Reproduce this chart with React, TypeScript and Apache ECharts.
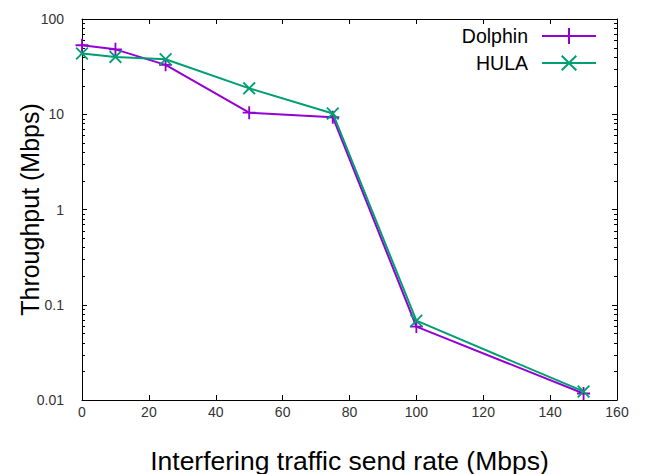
import React, { useEffect, useRef } from "react";
import * as echarts from "echarts";

const sendRates = [0, 10, 25, 50, 75, 100, 150];
const dolphinThroughput = [53, 48, 33, 10.4, 9.3, 0.059, 0.0117];
const hulaThroughput = [43.5, 40, 37.8, 18.7, 10.2, 0.068, 0.0123];
const seriesNames = ["Dolphin", "HULA"];
const xTitle = "Interfering traffic send rate (Mbps)";
const yTitle = "Throughput (Mbps)";
const xTicks = { min: 0, max: 160, interval: 20 };
const yRange = { min: 0.01, max: 100 };

const PURPLE = "#9400D3";
const GREEN = "#009E73";
const FONT = "'Liberation Sans', Arial, sans-serif";

const plusPath = "path://M-1,-7H1V-1H7V1H1V7H-1V1H-7V-1H-1Z";
const crossPath =
  "path://M-7,-5.6L-5.6,-7L0,-1.4L5.6,-7L7,-5.6L1.4,0L7,5.6L5.6,7L0,1.4L-5.6,7L-7,5.6L-1.4,0Z";
const legendPlus = "path://M0,7H54V9H0Z M26,0H28V16H26Z";
const legendCross =
  "path://M0,7H54V9H0Z M19,1.4L20.4,0L27,6.6L33.6,0L35,1.4L28.4,8L35,14.6L33.6,16L27,9.4L20.4,16L19,14.6L25.6,8Z";

export default function App() {
  const ref = useRef<HTMLDivElement>(null);
  useEffect(() => {
    if (!ref.current) return;
    const chart = echarts.init(ref.current, undefined, { renderer: "svg" });
    const minorVals: number[] = [];
    for (let e = -2; e < 2; e++) {
      for (let m = 2; m < 10; m++) minorVals.push(Number((m * Math.pow(10, e)).toPrecision(3)));
    }
    const labelStyle = { color: "#333", fontSize: 14, fontFamily: FONT };
    chart.setOption({
      animation: false,
      textStyle: { fontFamily: FONT },
      grid: {
        left: 82,
        top: 19,
        right: 32,
        bottom: 74,
        containLabel: false,
        outerBoundsMode: "none",
      },
      legend: {
        data: [
          { name: seriesNames[0], icon: legendPlus },
          { name: seriesNames[1], icon: legendCross },
        ],
        orient: "vertical",
        align: "right",
        right: 53,
        top: 26,
        padding: 0,
        itemWidth: 54,
        itemHeight: 16,
        itemGap: 7,
        selectedMode: false,
        textStyle: { fontSize: 19.5, color: "#000", fontFamily: FONT, padding: [0, 9, 0, 0] },
      },
      xAxis: [
        {
          type: "value",
          min: xTicks.min,
          max: xTicks.max,
          interval: xTicks.interval,
          name: xTitle,
          nameLocation: "middle",
          nameGap: 47,
          nameMoveOverlap: false,
          nameTextStyle: { fontSize: 26.5, color: "#000", fontFamily: FONT },
          axisLine: { show: true, onZero: false, lineStyle: { color: "#000", width: 1 } },
          axisTick: { show: true, inside: true, length: 5, lineStyle: { color: "#000" } },
          axisLabel: { ...labelStyle, margin: 5 },
          splitLine: { show: false },
        },
        {
          type: "value",
          position: "top",
          min: xTicks.min,
          max: xTicks.max,
          interval: xTicks.interval,
          axisLine: { show: true, onZero: false, lineStyle: { color: "#000", width: 1 } },
          axisTick: { show: true, inside: true, length: 5, lineStyle: { color: "#000" } },
          axisLabel: { show: false },
          splitLine: { show: false },
        },
      ],
      yAxis: [
        {
          type: "log",
          logBase: 10,
          min: yRange.min,
          max: yRange.max,
          name: yTitle,
          nameLocation: "middle",
          nameGap: 40,
          nameMoveOverlap: false,
          nameTextStyle: { fontSize: 25, color: "#000", fontFamily: FONT },
          axisLine: { show: true, onZero: false, lineStyle: { color: "#000", width: 1 } },
          axisTick: { show: true, inside: true, length: 5, lineStyle: { color: "#000" } },
          axisLabel: {
            ...labelStyle,
            margin: 18,
            formatter: (v: number) => String(Number(v.toPrecision(3))),
          },
          splitLine: { show: false },
        },
        {
          type: "log",
          logBase: 10,
          position: "right",
          min: yRange.min,
          max: yRange.max,
          axisLine: { show: true, onZero: false, lineStyle: { color: "#000", width: 1 } },
          axisTick: { show: true, inside: true, length: 5, lineStyle: { color: "#000" } },
          axisLabel: { show: false },
          splitLine: { show: false },
        },
      ],
      series: [
        {
          name: seriesNames[0],
          type: "line",
          data: sendRates.map((x, i) => [x, dolphinThroughput[i]]),
          symbol: plusPath,
          symbolSize: 13,
          lineStyle: { color: PURPLE, width: 2 },
          itemStyle: { color: PURPLE },
          z: 3,
        },
        {
          name: seriesNames[1],
          type: "line",
          data: sendRates.map((x, i) => [x, hulaThroughput[i]]),
          symbol: crossPath,
          symbolSize: 13,
          lineStyle: { color: GREEN, width: 2 },
          itemStyle: { color: GREEN },
          z: 4,
        },
        {
          type: "custom",
          silent: true,
          clip: false,
          data: minorVals.map((v) => [0, v]),
          renderItem: (params: any, api: any) => {
            const cs = params.coordSys;
            const p = api.coord([0, api.value(1)]);
            const y = Math.round(p[1]) + 0.5;
            const style = { stroke: "#000", lineWidth: 1 };
            return {
              type: "group",
              children: [
                { type: "line", shape: { x1: cs.x, y1: y, x2: cs.x + 3, y2: y }, style },
                {
                  type: "line",
                  shape: { x1: cs.x + cs.width - 3, y1: y, x2: cs.x + cs.width, y2: y },
                  style,
                },
              ],
            };
          },
          z: 1,
        },
      ],
    });
    return () => chart.dispose();
  }, []);
  return <div ref={ref} style={{ width: 649, height: 474, position: "absolute", left: 0, top: 0, background: "#fff" }} />;
}
